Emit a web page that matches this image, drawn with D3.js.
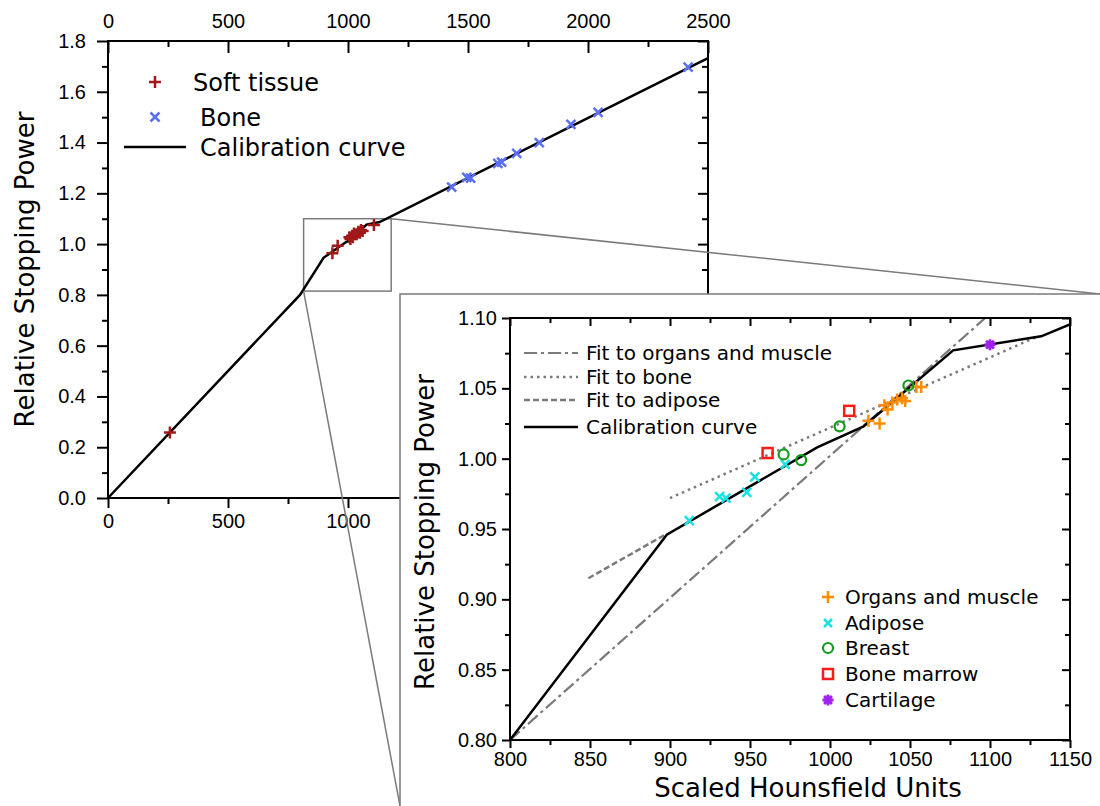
<!DOCTYPE html>
<html>
<head>
<meta charset="utf-8">
<script src="https://cdn.jsdelivr.net/npm/d3@7"></script>
<style>
  body { margin: 0; background: #fff; }
  svg { display: block; font-family: "DejaVu Sans", sans-serif; }
</style>
</head>
<body>
<div id="chart"></div>
<script>
// ---- data ----
const softTissue = [[258,0.258],[935,0.964],[957,0.994],[1006,1.027],[1010,1.020],[1017,1.033],[1020,1.027],
  [1025,1.042],[1036,1.039],[1043,1.049],[1050,1.045],[1054,1.056],[1061,1.052],[1108,1.075]];
const bone = [[1432,1.224],[1495,1.263],[1511,1.260],[1624,1.318],[1640,1.323],[1703,1.357],
  [1797,1.400],[1929,1.472],[2042,1.519],[2417,1.697]];
const calCurve = [[0,0],[800,0.80],[898,0.946],[992,1.008],[1021,1.023],[1077,1.077],[1132,1.087],[2500,1.733]];

const organs = [[1024,1.027],[1031,1.025],[1034,1.038],[1036,1.035],[1039,1.040],[1042,1.042],
  [1045,1.043],[1047,1.041],[1054,1.051],[1057,1.051]];
const adipose = [[912,0.956],[931,0.973],[935,0.972],[948,0.976],[953,0.987],[972,0.996]];
const breast = [[971,1.003],[982,0.999],[1006,1.023],[1049,1.052]];
const marrow = [[961,1.004],[1012,1.034]];
const cartilage = [[1100,1.081]];

const organsFit = [[800,0.80],[1097,1.10]];
const boneFit = [[900,0.972],[1130,1.087]];
const adiposeFit = [[849,0.915],[897,0.946]];

const zoomBox = { x: [815, 1180], y: [0.815, 1.10] };

const mainXTicks = [0, 500, 1000, 1500, 2000, 2500];
const mainXTicksBottom = [0, 500, 1000];   // the rest sit under the inset
const mainYTicks = d3.range(0, 1.81, 0.2);
const insetXTicks = d3.range(800, 1151, 50);
const insetYTicks = d3.range(0.80, 1.101, 0.05);

// ---- setup ----
const W = 1100, H = 806;
const svg = d3.select("#chart").append("svg").attr("width", W).attr("height", H);

const x = d3.scaleLinear().domain([0, 2500]).range([108, 708]);
const y = d3.scaleLinear().domain([0, 1.8]).range([498, 41]);
const xi = d3.scaleLinear().domain([800, 1150]).range([510, 1070]);
const yi = d3.scaleLinear().domain([0.80, 1.10]).range([740, 318]);

const GRAY = "#7a7a7a";
const plus = s => `M${-s},0H${s}M0,${-s}V${s}`;
const cross = s => `M${-s},${-s}L${s},${s}M${-s},${s}L${s},${-s}`;
const star = s => { let p = ""; for (let a = 0; a < 4; a++) { const t = a * Math.PI / 4, c = Math.cos(t) * s, d = Math.sin(t) * s; p += `M${-c},${-d}L${c},${d}`; } return p; };

function styleAxis(g, size) {
  g.select(".domain").remove();
  g.selectAll(".tick line").attr("stroke", "#000").attr("stroke-width", 2);
  g.selectAll(".tick text").attr("fill", "#000").style("font-size", size + "px");
}
function minor(g) {
  g.select(".domain").remove();
  g.selectAll(".tick line").attr("stroke", "#000").attr("stroke-width", 2);
  g.selectAll(".tick text").remove();
}

// ---- main chart ----
const main = svg.append("g");
main.append("g").attr("transform", `translate(0,${y(0)})`)
  .call(d3.axisBottom(x).tickValues(mainXTicksBottom).tickSize(10).tickPadding(6).tickFormat(d3.format("d")))
  .call(g => styleAxis(g, 20));
main.append("g").attr("transform", `translate(0,${y(0)})`)
  .call(d3.axisBottom(x).tickValues([250, 750]).tickSize(6)).call(minor);
main.append("g").attr("transform", `translate(0,${y(1.8)})`)
  .call(d3.axisTop(x).tickValues(mainXTicks).tickSize(-12).tickPadding(13).tickFormat(d3.format("d")))
  .call(g => styleAxis(g, 20));
main.append("g").attr("transform", `translate(0,${y(1.8)})`)
  .call(d3.axisTop(x).tickValues(d3.range(250, 2500, 500)).tickSize(-6)).call(minor);
main.append("g").attr("transform", `translate(${x(0)},0)`)
  .call(d3.axisLeft(y).tickValues(mainYTicks).tickSize(11).tickPadding(11).tickFormat(d3.format(".1f")))
  .call(g => styleAxis(g, 20));
main.append("g").attr("transform", `translate(${x(0)},0)`)
  .call(d3.axisLeft(y).tickValues(d3.range(0.1, 1.8, 0.2)).tickSize(6)).call(minor);
main.append("g").attr("transform", `translate(${x(2500)},0)`)
  .call(d3.axisRight(y).tickValues(mainYTicks).tickSize(-10)).call(minor);
main.append("g").attr("transform", `translate(${x(2500)},0)`)
  .call(d3.axisRight(y).tickValues(d3.range(0.1, 1.8, 0.2)).tickSize(-6)).call(minor);
main.append("rect")
  .attr("x", x(0)).attr("y", y(1.8)).attr("width", x(2500) - x(0)).attr("height", y(0) - y(1.8))
  .attr("fill", "none").attr("stroke", "#000").attr("stroke-width", 2);

main.append("text")
  .attr("transform", `translate(34,${(y(0) + y(1.8)) / 2}) rotate(-90)`)
  .attr("text-anchor", "middle").style("font-size", "26px").text("Relative Stopping Power");

// zoom box and connectors
main.append("rect")
  .attr("x", x(zoomBox.x[0])).attr("y", y(zoomBox.y[1]))
  .attr("width", x(zoomBox.x[1]) - x(zoomBox.x[0])).attr("height", y(zoomBox.y[0]) - y(zoomBox.y[1]))
  .attr("fill", "none").attr("stroke", GRAY).attr("stroke-width", 1.5);

const line = (sx, sy) => d3.line().x(d => sx(d[0])).y(d => sy(d[1]));
main.append("path").datum(calCurve).attr("d", line(x, y))
  .attr("fill", "none").attr("stroke", "#000").attr("stroke-width", 2.5);

main.selectAll(".st").data(softTissue).enter().append("path")
  .attr("transform", d => `translate(${x(d[0])},${y(d[1])})`).attr("d", plus(6))
  .attr("stroke", "#a01818").attr("stroke-width", 2.5);
main.selectAll(".bn").data(bone).enter().append("path")
  .attr("transform", d => `translate(${x(d[0])},${y(d[1])})`).attr("d", cross(4.5))
  .attr("stroke", "#5b6ff2").attr("stroke-width", 2.5);

// main legend
const lg = main.append("g").style("font-size", "24px");
lg.append("path").attr("transform", "translate(155,82)").attr("d", plus(6)).attr("stroke", "#a01818").attr("stroke-width", 2.5);
lg.append("text").attr("x", 193).attr("y", 91).text("Soft tissue");
lg.append("path").attr("transform", "translate(155,117)").attr("d", cross(4.5)).attr("stroke", "#5b6ff2").attr("stroke-width", 2.5);
lg.append("text").attr("x", 200).attr("y", 126).text("Bone");
lg.append("line").attr("x1", 124).attr("x2", 186).attr("y1", 147).attr("y2", 147).attr("stroke", "#000").attr("stroke-width", 2.5);
lg.append("text").attr("x", 200).attr("y", 156).text("Calibration curve");

// ---- inset ----
const boxX = 400, boxY = 294;
svg.append("line").attr("x1", x(zoomBox.x[1])).attr("y1", y(zoomBox.y[1])).attr("x2", W).attr("y2", boxY)
  .attr("stroke", GRAY).attr("stroke-width", 1.5);
svg.append("line").attr("x1", x(zoomBox.x[0])).attr("y1", y(zoomBox.y[0])).attr("x2", boxX).attr("y2", H)
  .attr("stroke", GRAY).attr("stroke-width", 1.5);

const inset = svg.append("g");
inset.append("rect").attr("x", boxX).attr("y", boxY).attr("width", W - boxX + 10).attr("height", H - boxY + 10)
  .attr("fill", "#fff").attr("stroke", GRAY).attr("stroke-width", 1.5);

inset.append("g").attr("transform", `translate(0,${yi(0.8)})`)
  .call(d3.axisBottom(xi).tickValues(insetXTicks).tickSize(8).tickPadding(4).tickFormat(d3.format("d")))
  .call(g => styleAxis(g, 20));
inset.append("g").attr("transform", `translate(0,${yi(0.8)})`)
  .call(d3.axisBottom(xi).tickValues(d3.range(825, 1150, 50)).tickSize(5)).call(minor);
inset.append("g").attr("transform", `translate(0,${yi(1.1)})`)
  .call(d3.axisTop(xi).tickValues(insetXTicks).tickSize(-8)).call(minor);
inset.append("g").attr("transform", `translate(0,${yi(1.1)})`)
  .call(d3.axisTop(xi).tickValues(d3.range(825, 1150, 50)).tickSize(-5)).call(minor);
inset.append("g").attr("transform", `translate(${xi(800)},0)`)
  .call(d3.axisLeft(yi).tickValues(insetYTicks).tickSize(8).tickPadding(5).tickFormat(d3.format(".2f")))
  .call(g => styleAxis(g, 20));
inset.append("g").attr("transform", `translate(${xi(800)},0)`)
  .call(d3.axisLeft(yi).tickValues(d3.range(0.825, 1.1, 0.05)).tickSize(5)).call(minor);
inset.append("g").attr("transform", `translate(${xi(1150)},0)`)
  .call(d3.axisRight(yi).tickValues(insetYTicks).tickSize(-8)).call(minor);
inset.append("g").attr("transform", `translate(${xi(1150)},0)`)
  .call(d3.axisRight(yi).tickValues(d3.range(0.825, 1.1, 0.05)).tickSize(-5)).call(minor);

inset.append("clipPath").attr("id", "clipI").append("rect")
  .attr("x", xi(800)).attr("y", yi(1.1)).attr("width", xi(1150) - xi(800)).attr("height", yi(0.8) - yi(1.1));

const plot = inset.append("g").attr("clip-path", "url(#clipI)");
plot.append("path").datum(organsFit).attr("d", line(xi, yi)).attr("fill", "none")
  .attr("stroke", GRAY).attr("stroke-width", 2.2).attr("stroke-dasharray", "13,4,3,4");
plot.append("path").datum(boneFit).attr("d", line(xi, yi)).attr("fill", "none")
  .attr("stroke", GRAY).attr("stroke-width", 2.5).attr("stroke-dasharray", "2.5,4");
plot.append("path").datum(adiposeFit).attr("d", line(xi, yi)).attr("fill", "none")
  .attr("stroke", GRAY).attr("stroke-width", 2.5).attr("stroke-dasharray", "6,3");
plot.append("path").datum(calCurve).attr("d", line(xi, yi)).attr("fill", "none")
  .attr("stroke", "#000").attr("stroke-width", 2.5);

const at = d => `translate(${xi(d[0])},${yi(d[1])})`;
plot.selectAll(".org").data(organs).enter().append("path").attr("transform", at)
  .attr("d", plus(6)).attr("stroke", "#ff8c00").attr("stroke-width", 2.5);
plot.selectAll(".adi").data(adipose).enter().append("path").attr("transform", at)
  .attr("d", cross(4.5)).attr("stroke", "#19e3e3").attr("stroke-width", 2.5);
plot.selectAll(".br").data(breast).enter().append("circle").attr("transform", at)
  .attr("r", 5).attr("fill", "none").attr("stroke", "#119c1b").attr("stroke-width", 2.2);
plot.selectAll(".mr").data(marrow).enter().append("rect").attr("transform", at)
  .attr("x", -5).attr("y", -5).attr("width", 10).attr("height", 10)
  .attr("fill", "none").attr("stroke", "#ff1a1a").attr("stroke-width", 2.5);
plot.selectAll(".ca").data(cartilage).enter().append("path").attr("transform", at)
  .attr("d", star(5.5)).attr("stroke", "#a020f0").attr("stroke-width", 2.8);

inset.append("rect")
  .attr("x", xi(800)).attr("y", yi(1.1)).attr("width", xi(1150) - xi(800)).attr("height", yi(0.8) - yi(1.1))
  .attr("fill", "none").attr("stroke", "#000").attr("stroke-width", 2);

inset.append("text").attr("x", 808).attr("y", 797).attr("text-anchor", "middle")
  .style("font-size", "26px").text("Scaled Hounsfield Units");
inset.append("text").attr("transform", `translate(434,532) rotate(-90)`).attr("text-anchor", "middle")
  .style("font-size", "26px").text("Relative Stopping Power");

// inset line legend
const lineLegend = [
  { label: "Fit to organs and muscle", dash: "13,4,3,4", color: GRAY, w: 2.2, y: 353 },
  { label: "Fit to bone", dash: "2.5,4", color: GRAY, w: 2.5, y: 377 },
  { label: "Fit to adipose", dash: "6,3", color: GRAY, w: 2.5, y: 400 },
  { label: "Calibration curve", dash: null, color: "#000", w: 2.5, y: 427 }
];
const ll = inset.append("g").style("font-size", "20px");
lineLegend.forEach(d => {
  ll.append("line").attr("x1", 524).attr("x2", 578).attr("y1", d.y).attr("y2", d.y)
    .attr("stroke", d.color).attr("stroke-width", d.w).attr("stroke-dasharray", d.dash);
  ll.append("text").attr("x", 586).attr("y", d.y + 7).text(d.label);
});

// inset marker legend
const ml = inset.append("g").style("font-size", "20px");
const mk = [
  { label: "Organs and muscle", y: 597 },
  { label: "Adipose", y: 623 },
  { label: "Breast", y: 648 },
  { label: "Bone marrow", y: 674 },
  { label: "Cartilage", y: 700 }
];
ml.append("path").attr("transform", `translate(828,${mk[0].y})`).attr("d", plus(6)).attr("stroke", "#ff8c00").attr("stroke-width", 2.5);
ml.append("path").attr("transform", `translate(828,${mk[1].y})`).attr("d", cross(4)).attr("stroke", "#19e3e3").attr("stroke-width", 2.5);
ml.append("circle").attr("transform", `translate(828,${mk[2].y})`).attr("r", 5).attr("fill", "none").attr("stroke", "#119c1b").attr("stroke-width", 2.2);
ml.append("rect").attr("transform", `translate(828,${mk[3].y})`).attr("x", -5).attr("y", -5).attr("width", 10).attr("height", 10)
  .attr("fill", "none").attr("stroke", "#ff1a1a").attr("stroke-width", 2.5);
ml.append("path").attr("transform", `translate(828,${mk[4].y})`).attr("d", star(5.5)).attr("stroke", "#a020f0").attr("stroke-width", 2.8);
mk.forEach(d => ml.append("text").attr("x", 845).attr("y", d.y + 7).text(d.label));
</script>
</body>
</html>
